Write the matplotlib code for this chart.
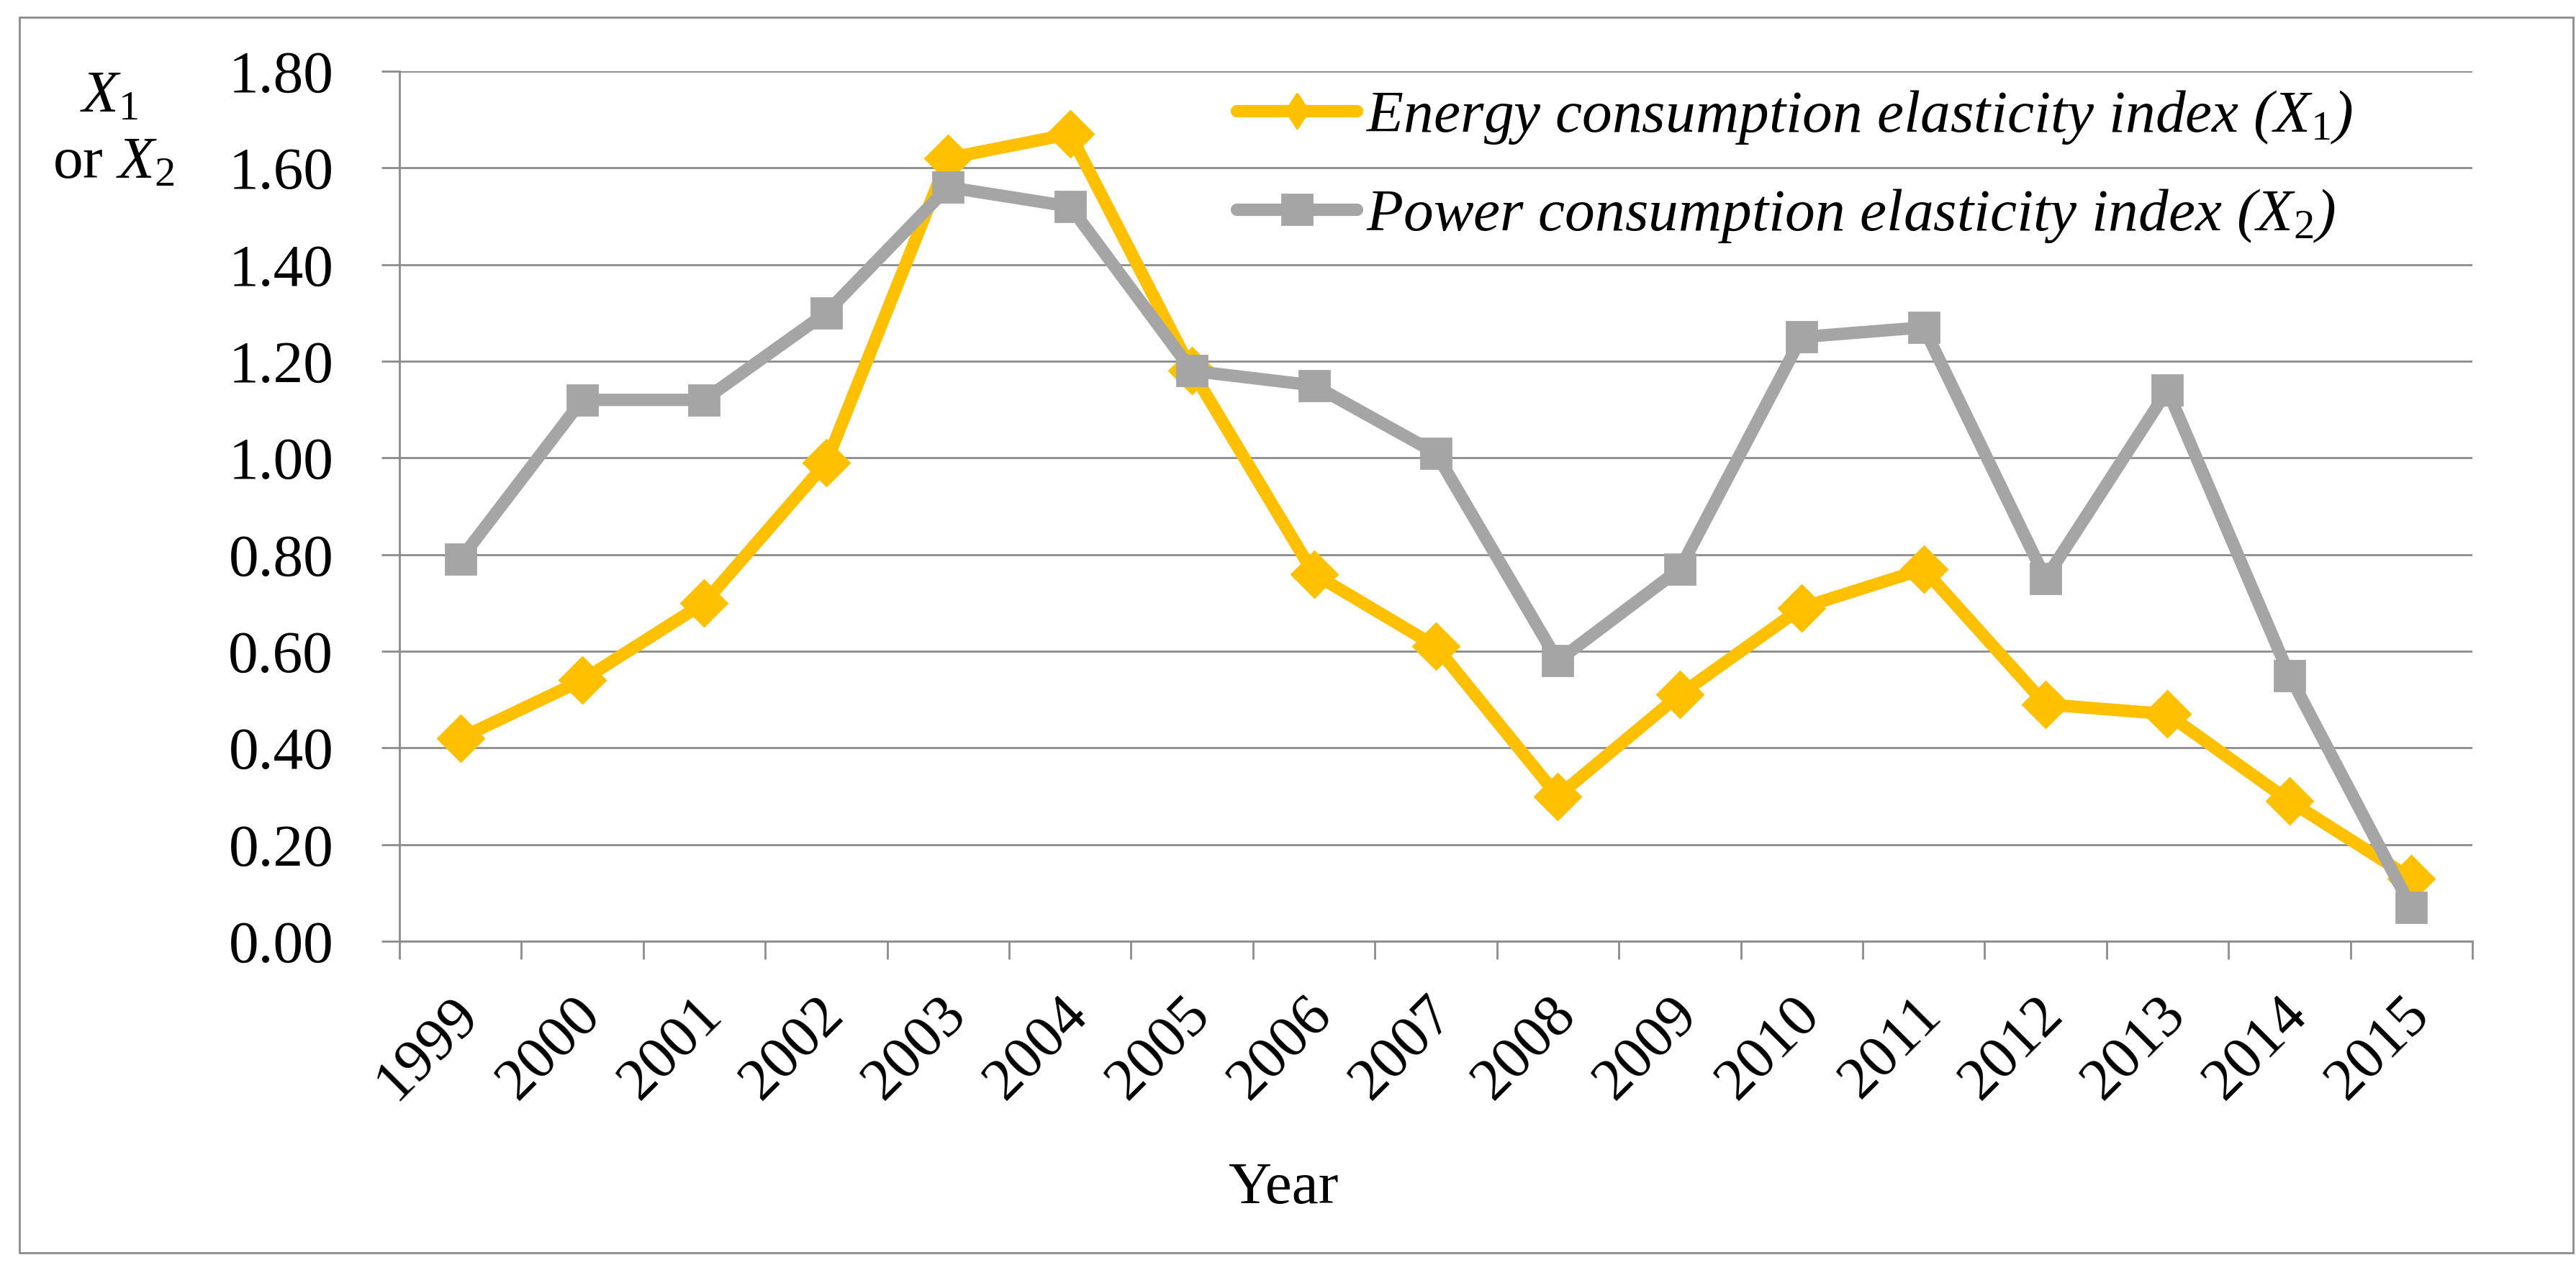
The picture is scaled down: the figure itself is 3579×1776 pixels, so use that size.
import numpy as np
import matplotlib
matplotlib.use('Agg')
import matplotlib.pyplot as plt
import matplotlib.transforms as mtransforms
from matplotlib.patches import Rectangle

years = ['1999', '2000', '2001', '2002', '2003', '2004', '2005', '2006', '2007',
         '2008', '2009', '2010', '2011', '2012', '2013', '2014', '2015']
energy_x1 = [0.42, 0.54, 0.70, 0.99, 1.62, 1.67, 1.18, 0.76, 0.61,
             0.30, 0.51, 0.69, 0.77, 0.49, 0.47, 0.29, 0.13]
power_x2 = [0.79, 1.12, 1.12, 1.30, 1.56, 1.52, 1.18, 1.15, 1.01,
            0.58, 0.77, 1.25, 1.27, 0.75, 1.14, 0.55, 0.07]
y_ticks = [0.0, 0.2, 0.4, 0.6, 0.8, 1.0, 1.2, 1.4, 1.6, 1.8]

plt.rcParams['font.family'] = 'Liberation Serif'
plt.rcParams['mathtext.fontset'] = 'custom'
plt.rcParams['mathtext.rm'] = 'Liberation Serif'
plt.rcParams['mathtext.it'] = 'Liberation Serif:italic'

FS = 30
GRID = '#8c8c8c'
YELLOW = '#FFC000'
GRAY = '#A5A5A5'

fig = plt.figure(figsize=(17.9, 8.88), dpi=200)
ax = fig.add_axes([0.155, 0.2635, 0.8045, 0.6808])

x = np.arange(len(years))
ax.plot(x, energy_x1, color=YELLOW, lw=6.2, marker='D', ms=16.5, mec=YELLOW,
        solid_capstyle='round', solid_joinstyle='round', zorder=3,
        label=r'Energy consumption elasticity index (X$_1$)')
ax.plot(x, power_x2, color=GRAY, lw=6.2, marker='s', ms=14.8, mec=GRAY,
        solid_capstyle='round', solid_joinstyle='round', zorder=4,
        label=r'Power consumption elasticity index (X$_2$)')

ax.set_xlim(-0.5, len(years) - 0.5)
ax.set_ylim(0, 1.8)
ax.set_yticks(y_ticks)
ax.set_yticklabels([f'{v:.2f}' for v in y_ticks], fontsize=FS)
ax.set_xticks(np.arange(len(years) + 1) - 0.5)
ax.set_xticklabels([])
ax.set_xticks(x, minor=True)
ax.set_xticklabels(years, minor=True, fontsize=FS)
ax.tick_params(axis='x', which='minor', length=0, pad=23)
ax.tick_params(axis='x', which='major', length=9, width=1, color=GRID, direction='out')
ax.tick_params(axis='y', length=9, width=1, color=GRID, direction='out', pad=24)
shift = mtransforms.ScaledTranslation(-5 / 72, 0, fig.dpi_scale_trans)
for lab in ax.get_xticklabels(minor=True):
    lab.set_rotation(45)
    lab.set_ha('right')
    lab.set_va('top')
    lab.set_rotation_mode('anchor')
    lab.set_transform(lab.get_transform() + shift)

ax.grid(axis='y', color=GRID, lw=1.0)
ax.set_axisbelow(True)
for s in ['top', 'right']:
    ax.spines[s].set_visible(False)
for s in ['left', 'bottom']:
    ax.spines[s].set_color(GRID)
    ax.spines[s].set_linewidth(1.0)

leg = ax.legend(loc='upper left', bbox_to_anchor=(0.480, 0.9305),
                bbox_transform=fig.transFigure, frameon=False, borderpad=0,
                borderaxespad=0, handlelength=2.0, handletextpad=0.15,
                labelspacing=0.68, numpoints=1,
                prop={'family': 'Liberation Serif', 'style': 'italic', 'size': FS})
# legend diamond is drawn narrower than the one on the line
leg.legend_handles[0].set_marker([(0, 1), (0.65, 0), (0, -1), (-0.65, 0), (0, 1)])
leg.legend_handles[0].set_markersize(17.6)

fig.text(0.0425, 0.9127, r'$X_1$', fontsize=FS, ha='center', va='baseline')
fig.text(0.0441, 0.8604, r'or $X_2$', fontsize=FS, ha='center', va='baseline')
fig.text(0.498, 0.0586, 'Year', fontsize=FS, ha='center', va='baseline')

border = Rectangle((27 / 3580, 1 - 1741 / 1776), (3575 - 27) / 3580, (1741 - 24) / 1776,
                   transform=fig.transFigure, fill=False, ec=GRID, lw=1.0)
fig.patches.append(border)

fig.savefig('out.png', dpi=200)
plt.close(fig)
